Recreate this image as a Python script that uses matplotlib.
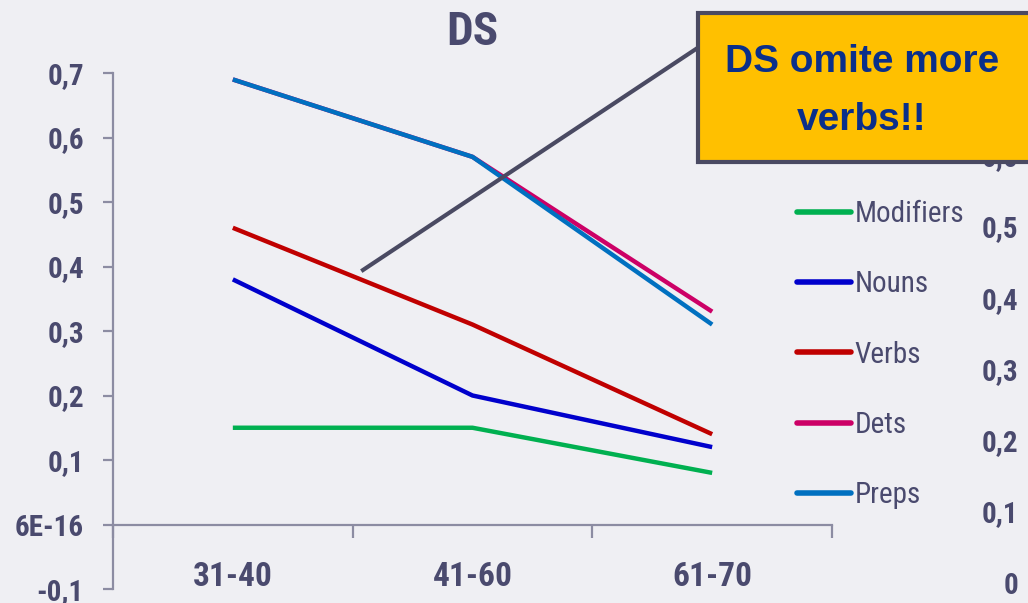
import matplotlib
matplotlib.use("Agg")
import matplotlib.pyplot as plt
from matplotlib.patches import Rectangle
from matplotlib.lines import Line2D
from matplotlib import font_manager as fm

# ---------------- data ----------------
categories = ["31-40", "41-60", "61-70"]
series_names = ["Modifiers", "Nouns", "Verbs", "Dets", "Preps"]
modifiers = [0.15, 0.15, 0.08]
nouns = [0.38, 0.20, 0.12]
verbs = [0.46, 0.31, 0.14]
dets = [0.69, 0.57, 0.33]
preps = [0.69, 0.57, 0.31]
left_ticks = [-0.1, 0.0, 0.1, 0.2, 0.3, 0.4, 0.5, 0.6, 0.7]
left_tick_labels = ["-0,1", "6E-16", "0,1", "0,2", "0,3", "0,4", "0,5", "0,6", "0,7"]
right_ticks = [0.0, 0.1, 0.2, 0.3, 0.4, 0.5, 0.6]
right_tick_labels = ["0", "0,1", "0,2", "0,3", "0,4", "0,5", "0,6"]
title = "DS"
callout_text = "DS omite more\nverbs!!"

# ---------------- styles ----------------
colors = ["#00B050", "#0000CC", "#C00000", "#CC0066", "#0070C0"]
txt_col = "#4A4A6E"
axis_col = "#8C8CA2"
bg = "#EFEFF3"

names = {f.name for f in fm.fontManager.ttflist}
narrow = "DejaVu Sans"
for cand in ["Liberation Sans Narrow", "Arial Narrow", "Roboto Condensed",
             "Archivo Narrow", "Asap Condensed", "Barlow Semi Condensed"]:
    if cand in names:
        narrow = cand
        break

W, H = 1028, 603
fig = plt.figure(figsize=(W / 100, H / 100), dpi=100, facecolor=bg)

def fx(px):
    return px / W

def fy(py):
    return 1 - py / H

ax = fig.add_axes([fx(113), fy(589), fx(832) - fx(113), fy(73) - fy(589)])
ax.set_facecolor("none")
x = [1, 2, 3]
all_series = [modifiers, nouns, verbs, dets, preps]
for name, vals, c in zip(series_names, all_series, colors):
    ax.plot(x, vals, color=c, lw=3.2, label=name, solid_capstyle="butt")

ax.set_xlim(0.5, 3.5)
ax.set_ylim(-0.1, 0.7)

for s in ["top", "right"]:
    ax.spines[s].set_visible(False)
ax.spines["left"].set_color(axis_col)
ax.spines["left"].set_linewidth(1.6)
ax.spines["bottom"].set_color(axis_col)
ax.spines["bottom"].set_linewidth(1.6)
ax.spines["bottom"].set_position(("data", 0))

ax.set_yticks(left_ticks)
ax.set_yticklabels(left_tick_labels)
ax.tick_params(axis="y", direction="out", length=7, width=1.6, color=axis_col,
               pad=14, labelsize=21, labelcolor=txt_col)
for t in ax.get_yticklabels():
    t.set_fontfamily(narrow)
    t.set_fontweight("bold")

ax.set_xticks([0.5, 1.5, 2.5, 3.5])
ax.set_xticklabels([])
ax.tick_params(axis="x", which="major", direction="out", length=9, width=1.6, color=axis_col)
ax.set_xticks(x, minor=True)
ax.set_xticklabels(categories, minor=True)
ax.tick_params(axis="x", which="minor", length=0, pad=26, labelsize=24, labelcolor=txt_col)
for t in ax.get_xticklabels(minor=True):
    t.set_fontfamily(narrow)
    t.set_fontweight("bold")

# right-side axis labels
ax2 = ax.twinx()
ax2.set_ylim(-0.0091, 0.7156)
for s in ax2.spines.values():
    s.set_visible(False)
ax2.set_yticks(right_ticks)
ax2.set_yticklabels(right_tick_labels)
ax2.tick_params(axis="y", length=0, pad=134, labelsize=21, labelcolor=txt_col)
for t in ax2.get_yticklabels():
    t.set_fontfamily(narrow)
    t.set_fontweight("bold")
    t.set_horizontalalignment("right")

# title
fig.text(fx(472), fy(32), title, ha="center", va="center", fontsize=34,
         fontweight="bold", family=narrow, color=txt_col)

# legend
leg = ax.legend(loc="upper left", bbox_to_anchor=(fx(797), fy(200)),
                bbox_transform=fig.transFigure, frameon=False, borderpad=0,
                borderaxespad=0, handlelength=1.85, handletextpad=0.12,
                labelspacing=1.45, prop={"family": narrow, "size": 21})
for t in leg.get_texts():
    t.set_color(txt_col)
for h in leg.get_lines():
    h.set_linewidth(4)
    h.set_solid_capstyle("round")

# callout
fig.add_artist(Line2D([fx(363), fx(699)], [fy(270), fy(47)], transform=fig.transFigure,
                      color="#4A4A62", lw=3, zorder=5))
fig.add_artist(Rectangle((fx(698), fy(162)), fx(1040) - fx(698), fy(13) - fy(162),
                         transform=fig.transFigure, facecolor="#FFC000",
                         edgecolor="#4A4A62", lw=3, zorder=6))
fig.text(fx(862), fy(91), callout_text, ha="center", va="center", fontsize=28,
         fontweight="bold", family="Liberation Sans", color="#0A2F8A",
         linespacing=1.75, zorder=7)

fig.savefig("out.png", dpi=100, facecolor=bg)
